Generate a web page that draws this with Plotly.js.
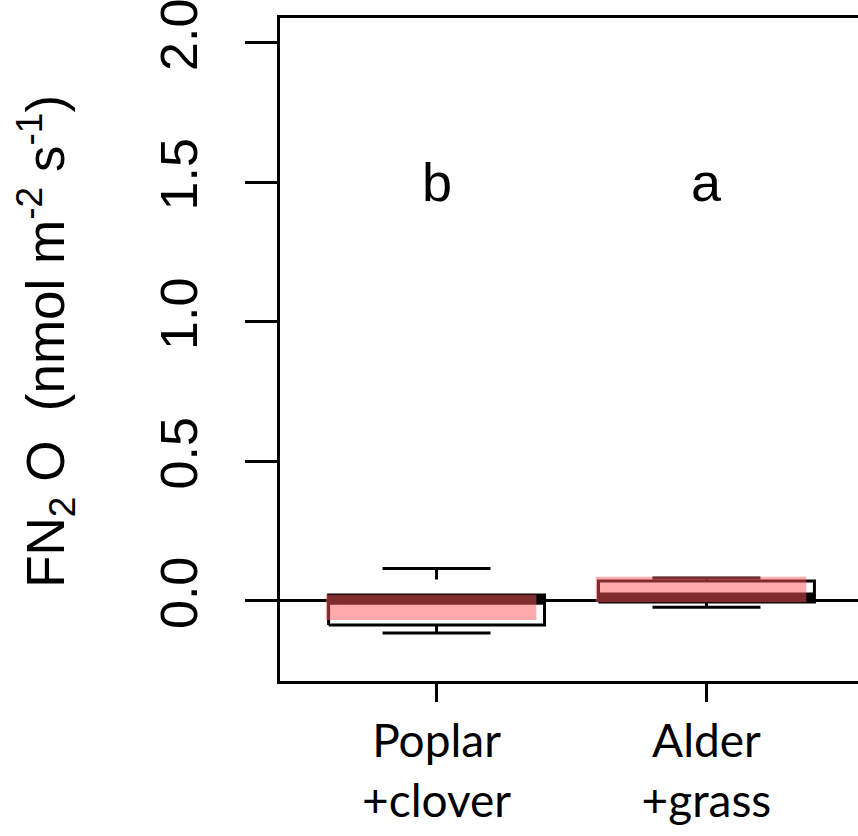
<!DOCTYPE html>
<html>
<head>
<meta charset="utf-8">
<script src="https://cdn.plot.ly/plotly-3.0.1.min.js"></script>
<style>
html, body { margin: 0; padding: 0; overflow: hidden; background: #fff; }
#chart { width: 864px; height: 836px; }
</style>
</head>
<body>
<div id="chart"></div>
<script>
// ---- data ----
const categories   = ['Poplar<br>+clover', 'Alder<br>+grass'];
const positions    = [1, 2];
const whiskerLow   = [-0.116, -0.024];
const q1           = [-0.087, -0.005];
const median       = [0.003, 0.011];
const q3           = [0.020, 0.070];
const whiskerHigh  = [0.115, 0.081];
const overlayLow   = [-0.069, -0.006];
const overlayHigh  = [0.0215, 0.086];
const letters      = ['b', 'a'];
const letterY      = [1.5, 1.5];
const yTickVals    = [0, 0.5, 1, 1.5, 2];
const yTickText    = ['0.0', '0.5', '1.0', '1.5', '2.0'];

// ---- styling ----
const ARIAL = 'Liberation Sans, Arial, sans-serif';
const boxHalf = 0.4, capHalf = 0.2;
const ovLeft = -0.41, ovRight = 0.37;
const pink = 'rgba(255,85,90,0.5)';

const traces = [];
function seg(xs, ys, width, dash) {
  traces.push({type: 'scatter', mode: 'lines', x: xs, y: ys, hoverinfo: 'skip',
    showlegend: false, line: {color: 'black', width: width, dash: dash || 'solid'}});
}

positions.forEach((p, i) => {
  // dashed whiskers (drawn from the cap toward the box)
  seg([p, p], [whiskerHigh[i], q3[i]], 3, '11px,15px');
  seg([p, p], [whiskerLow[i], q1[i]], 3, '11px,15px');
  // caps
  seg([p - capHalf, p + capHalf], [whiskerHigh[i], whiskerHigh[i]], 3);
  seg([p - capHalf, p + capHalf], [whiskerLow[i], whiskerLow[i]], 3);
  // box
  seg([p - boxHalf, p + boxHalf, p + boxHalf, p - boxHalf, p - boxHalf],
      [q1[i], q1[i], q3[i], q3[i], q1[i]], 3);
  // median
  seg([p - boxHalf, p + boxHalf], [median[i], median[i]], 10);
});

// translucent overlay rectangles
positions.forEach((p, i) => {
  traces.push({type: 'scatter', mode: 'lines', fill: 'toself', fillcolor: pink,
    hoverinfo: 'skip', showlegend: false, line: {width: 0, color: pink},
    x: [p + ovLeft, p + ovRight, p + ovRight, p + ovLeft, p + ovLeft],
    y: [overlayLow[i], overlayLow[i], overlayHigh[i], overlayHigh[i], overlayLow[i]]});
});

const annotations = positions.map((p, i) => ({
  x: p, y: letterY[i], xref: 'x', yref: 'y', text: letters[i], showarrow: false,
  xanchor: 'center', yanchor: 'middle', font: {family: ARIAL, size: 54, color: 'black'}
}));
annotations.push({
  xref: 'paper', yref: 'paper', x: -0.4014, y: 0.513, xanchor: 'center', yanchor: 'middle',
  textangle: -90, showarrow: false,
  text: 'FN<sub>2</sub>\u00A0O\u00A0\u00A0(nmol\u00A0m<sup>-2</sup>\u00A0s<sup>-1</sup>)',
  font: {family: ARIAL, size: 53, color: 'black'}
});

const layout = {
  width: 864, height: 836,
  margin: {l: 280, r: 1, t: 18, b: 155, pad: 0},
  paper_bgcolor: 'white', plot_bgcolor: 'white',
  showlegend: false,
  xaxis: {
    type: 'linear', range: [0.42, 2.58], tickvals: positions, ticktext: categories,
    ticks: 'outside', ticklen: 18, tickwidth: 3, tickcolor: 'black',
    showline: true, mirror: true, linewidth: 3, linecolor: 'black',
    showgrid: false, zeroline: false, fixedrange: true,
    ticklabeloverflow: 'allow',
    tickfont: {family: 'Lato, sans-serif', size: 46, color: 'black'}
  },
  yaxis: {
    range: [-0.288, 2.088], tickvals: yTickVals, ticktext: yTickText, tickangle: -90,
    ticks: 'outside', ticklen: 32, tickwidth: 3, tickcolor: 'black',
    ticklabelstandoff: 27, ticklabeloverflow: 'allow',
    showline: true, mirror: true, linewidth: 3, linecolor: 'black',
    showgrid: false, zeroline: true, zerolinewidth: 3, zerolinecolor: 'black',
    fixedrange: true,
    tickfont: {family: ARIAL, size: 52, color: 'black'}
  },
  annotations: annotations
};

Plotly.newPlot('chart', traces, layout, {displayModeBar: false, staticPlot: true});
</script>
</body>
</html>
